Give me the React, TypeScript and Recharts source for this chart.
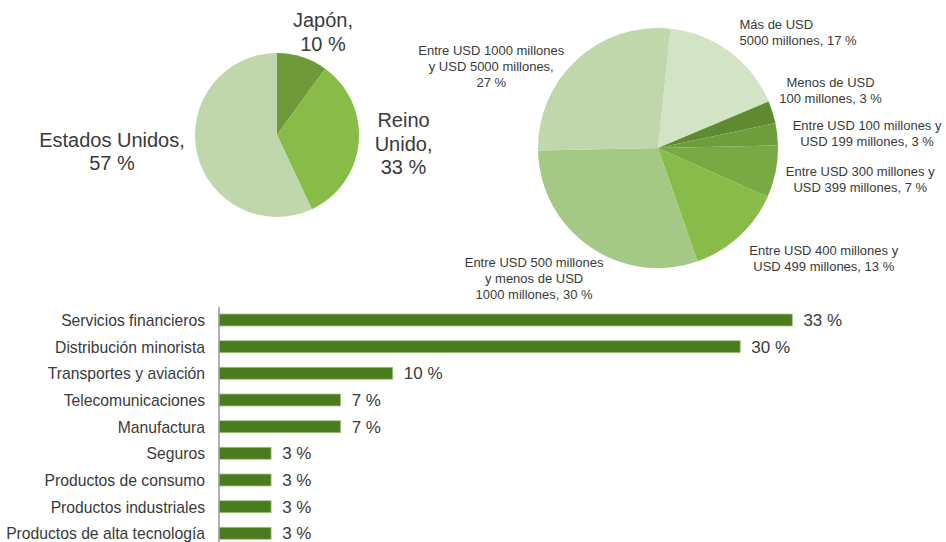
import { Bar, BarChart, Cell, LabelList, Pie, PieChart, XAxis, YAxis } from "recharts";

const countryNames = ["Japón,", "Reino Unido,", "Estados Unidos,"];
const countryValues = [10, 33, 57];
const countryLabelLines = [["Japón,", "10 %"], ["Reino", "Unido,", "33 %"], ["Estados Unidos,", "57 %"]];

const revenueNames = [
  "Más de USD 5000 millones",
  "Menos de USD 100 millones",
  "Entre USD 100 millones y USD 199 millones",
  "Entre USD 300 millones y USD 399 millones",
  "Entre USD 400 millones y USD 499 millones",
  "Entre USD 500 millones y menos de USD 1000 millones",
  "Entre USD 1000 millones y USD 5000 millones",
];
const revenueValues = [17, 3, 3, 7, 13, 30, 27];
const revenueLabelLines = [
  ["Más de USD", "5000 millones, 17 %"],
  ["Menos de USD", "100 millones, 3 %"],
  ["Entre USD 100 millones y", "USD 199 millones, 3 %"],
  ["Entre USD 300 millones y", "USD 399 millones, 7 %"],
  ["Entre USD 400 millones y", "USD 499 millones, 13 %"],
  ["Entre USD 500 millones", "y menos de USD", "1000 millones, 30 %"],
  ["Entre USD 1000 millones", "y USD 5000 millones,", "27 %"],
];

const sectors = [
  "Servicios financieros",
  "Distribución minorista",
  "Transportes y aviación",
  "Telecomunicaciones",
  "Manufactura",
  "Seguros",
  "Productos de consumo",
  "Productos industriales",
  "Productos de alta tecnología",
];
const sectorValues = [33, 30, 10, 7, 7, 3, 3, 3, 3];

const countryData = countryNames.map((name, i) => ({ name, value: countryValues[i] }));
const revenueData = revenueNames.map((name, i) => ({ name, value: revenueValues[i] }));
const sectorData = sectors.map((name, i) => ({ name, value: sectorValues[i] }));

const countryColors = ["#6f9a3a", "#88bb48", "#c0d7ab"];
const revenueColors = ["#d3e4c6", "#5e8a30", "#6e9e3c", "#78a942", "#88bb48", "#a3c985", "#bfd7aa"];

const FONT = '"Helvetica Neue", Helvetica, "Liberation Sans", Arial, sans-serif';
const TEXT = "#3a3a3a";
const RAD = Math.PI / 180;

// label nudges from the polar anchor: [dx, dy, anchor]
const countryNudge: [number, number, string][] = [
  [14.5, -6, "middle"],
  [25, -1, "middle"],
  [-65.5, -5.5, "middle"],
];
const revenueNudge: [number, number, string][] = [
  [-2, -4, "start"],
  [39, -16, "middle"],
  [70, 1, "middle"],
  [65, 3, "middle"],
  [71, 7, "middle"],
  [-44, 15, "middle"],
  [-72, 21, "middle"],
];

const makeLabel =
  (lines: string[][], nudge: [number, number, string][], gap: number, size: number, lh: number) =>
  (props: any) => {
    const { cx, cy, midAngle, outerRadius, index } = props;
    const r = outerRadius + gap;
    const ax = cx + r * Math.cos(-midAngle * RAD);
    const ay = cy + r * Math.sin(-midAngle * RAD);
    const [dx, dy, anchor] = nudge[index];
    const rows = lines[index];
    const top = ay + dy - ((rows.length - 1) * lh) / 2;
    return (
      <text
        x={ax + dx}
        y={top}
        textAnchor={anchor as any}
        dominantBaseline="central"
        fontSize={size}
        fontFamily={FONT}
        fill={TEXT}
      >
        {rows.map((t, k) => (
          <tspan key={k} x={ax + dx} y={top + k * lh} dominantBaseline="central">
            {t}
          </tspan>
        ))}
      </text>
    );
  };

export default function App() {
  return (
    <div
      style={{
        position: "absolute",
        left: 0,
        top: 0,
        width: 946,
        height: 542,
        overflow: "hidden",
        background: "#fff",
        fontFamily: FONT,
      }}
    >
      <div style={{ position: "absolute", left: 0, top: 0 }}>
        <PieChart width={946} height={310} margin={{ top: 0, right: 0, bottom: 0, left: 0 }}>
          <Pie
            data={countryData}
            dataKey="value"
            cx={277}
            cy={135}
            outerRadius={82}
            startAngle={90}
            endAngle={-270}
            stroke="none"
            labelLine={false}
            label={makeLabel(countryLabelLines, countryNudge, 20, 20, 23.3)}
            isAnimationActive={false}
          >
            {countryData.map((d, i) => (
              <Cell key={d.name} fill={countryColors[i]} />
            ))}
          </Pie>
          <Pie
            data={revenueData}
            dataKey="value"
            cx={658}
            cy={148}
            outerRadius={120}
            startAngle={84}
            endAngle={-276}
            stroke="none"
            labelLine={false}
            label={makeLabel(revenueLabelLines, revenueNudge, 20, 13, 16)}
            isAnimationActive={false}
          >
            {revenueData.map((d, i) => (
              <Cell key={d.name} fill={revenueColors[i]} />
            ))}
          </Pie>
        </PieChart>
      </div>
      <div style={{ position: "absolute", left: 0, top: 300 }}>
        <BarChart
          width={946}
          height={252}
          data={sectorData}
          layout="vertical"
          margin={{ top: 7, right: 32, bottom: 5, left: 0 }}
        >
          <XAxis type="number" domain={[0, 40]} hide />
          <YAxis
            type="category"
            dataKey="name"
            width={219}
            tickLine={false}
            tickMargin={8}
            axisLine={{ stroke: "#999", strokeWidth: 1.5 }}
            tick={{ fontSize: 15.7, fill: TEXT, fontFamily: FONT }}
            interval={0}
          />
          <Bar dataKey="value" barSize={12} fill="#4a7c1e" stroke="#a6c68a" strokeWidth={0.8} isAnimationActive={false}>
            <LabelList
              dataKey="value"
              position="right"
              offset={11}
              formatter={(v: any) => `${v} %`}
              style={{ fontSize: 17, fill: TEXT, fontFamily: FONT }}
            />
          </Bar>
        </BarChart>
      </div>
    </div>
  );
}
